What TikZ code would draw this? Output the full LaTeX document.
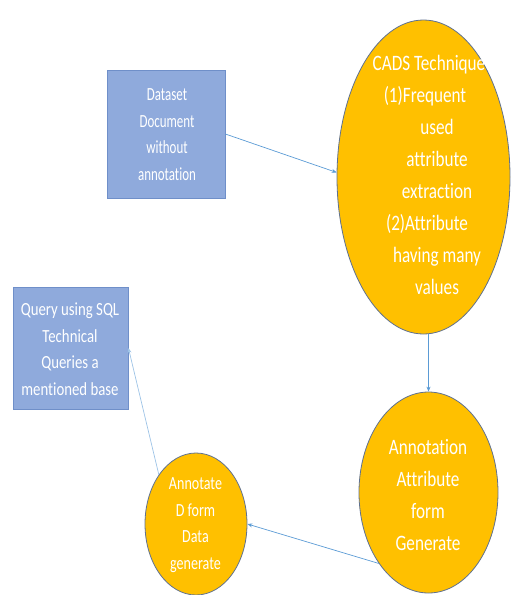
\documentclass[tikz,border=0pt]{standalone}
\usepackage{fontspec}
\newfontfamily\calfontbig[FakeStretch=0.78,Ligatures=NoCommon]{Carlito}
\newfontfamily\calfontsm[FakeStretch=0.76,Ligatures=NoCommon]{Carlito}
\newfontfamily\calfontq[FakeStretch=0.8,Ligatures=NoCommon]{Carlito}
\newfontfamily\calfontd[FakeStretch=0.7,Ligatures=NoCommon]{Carlito}
\usetikzlibrary{shapes.geometric,arrows.meta}
\definecolor{boxfill}{HTML}{8FAADC}
\definecolor{boxline}{HTML}{6F8FC9}
\definecolor{ellfill}{HTML}{FFC000}
\definecolor{ellline}{HTML}{5F7190}
\definecolor{arrowc}{HTML}{5B9BD5}
\definecolor{arrowl}{HTML}{9DC3E6}
\tikzset{
  sqbox/.style={draw=boxline, fill=boxfill, line width=0.8pt, inner sep=0pt},
  ell/.style={ellipse, draw=ellline, fill=ellfill, line width=0.8pt, inner sep=0pt},
  bigtxt/.style={text=white, align=center, font=\calfontbig\fontsize{22}{32}\selectfont, inner sep=0pt},
  smalltxt/.style={text=white, align=center, font=\calfontsm\fontsize{18.5}{26.5}\selectfont, inner sep=0pt},
  conn/.style={draw=arrowc, line width=0.7pt, -{Stealth[length=5pt,width=4pt]}},
}
\begin{document}
\begin{tikzpicture}[x=1pt,y=-1pt]
\useasboundingbox (0,0) rectangle (511,595);
% boxes
\node[sqbox, minimum width=118pt, minimum height=128pt] (box1) at (166,134) {};
\node[smalltxt, font=\calfontd\fontsize{18.5}{26.5}\selectfont] (t1) at (167,134.5) {Dataset\\Document\\without\\annotation};
\node[sqbox, minimum width=115pt, minimum height=122pt] (box2) at (70.5,348) {};
\node[smalltxt, font=\calfontq\fontsize{18.5}{26.5}\selectfont] (t2) at (70,349) {Query using SQL\\Technical\\Queries a\\mentioned base};
% ellipses
\node[ell, minimum width=173pt, minimum height=314pt] (cads) at (423.5,177) {};
\node[bigtxt] (t3) at (437,175) {CADS Technique\hspace*{16pt}\mbox{}\\(1)Frequent\hspace*{24pt}\mbox{}\\used\\attribute\\extraction\\(2)Attribute\hspace*{20pt}\mbox{}\\having many\\values};
\node[ell, minimum width=139pt, minimum height=201pt] (annot) at (428.5,492.5) {};
\node[bigtxt] (t4) at (428,495) {Annotation\\Attribute\\form\\Generate};
\node[ell, minimum width=102pt, minimum height=142pt] (small) at (196,524) {};
\node[smalltxt] (t5) at (195.5,525) {Annotate\\D form\\Data\\generate};
% connectors
\draw[conn] (box1.east) -- (cads.177);
\draw[conn] (annot.north |- cads.south) -- (annot.north);
\draw[conn] (annot.235) -- (small.east);
\draw[conn, draw=arrowl] (small.127) -- (box2.east);
\end{tikzpicture}
\end{document}
